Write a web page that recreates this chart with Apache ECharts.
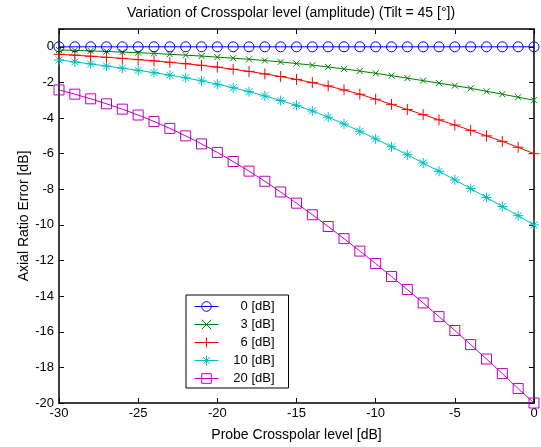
<!DOCTYPE html>
<html>
<head>
<meta charset="utf-8">
<script src="https://cdn.jsdelivr.net/npm/echarts@6/dist/echarts.min.js"></script>
<style>
html,body{margin:0;padding:0;background:#fff;}
#chart{width:541px;height:447px;}
</style>
</head>
<body>
<div id="chart"></div>
<script>
// Probe crosspolar level [dB]
var xValues = [-30,-29,-28,-27,-26,-25,-24,-23,-22,-21,-20,-19,-18,-17,-16,-15,-14,-13,-12,-11,-10,-9,-8,-7,-6,-5,-4,-3,-2,-1,0];
var seriesNames = ['0 [dB]','3 [dB]','6 [dB]','10 [dB]','20 [dB]'];
var ar0 = [0,0,0,0,0,0,0,0,0,0,0,0,0,0,0,0,0,0,0,0,0,0,0,0,0,0,0,0,0,0,0];
var ar3 = [-0.18,-0.20,-0.23,-0.26,-0.30,-0.33,-0.37,-0.42,-0.47,-0.52,-0.58,-0.64,-0.70,-0.77,-0.85,-0.94,-1.03,-1.13,-1.24,-1.36,-1.49,-1.62,-1.76,-1.90,-2.04,-2.18,-2.33,-2.50,-2.66,-2.83,-3.00];
var ar6 = [-0.42,-0.47,-0.53,-0.59,-0.65,-0.72,-0.79,-0.87,-0.95,-1.04,-1.14,-1.26,-1.38,-1.52,-1.67,-1.83,-2.01,-2.20,-2.42,-2.66,-2.94,-3.23,-3.52,-3.81,-4.10,-4.39,-4.69,-5.00,-5.31,-5.64,-6.00];
var ar10 = [-0.74,-0.85,-0.96,-1.08,-1.20,-1.32,-1.45,-1.59,-1.74,-1.91,-2.10,-2.30,-2.52,-2.76,-3.02,-3.29,-3.60,-3.95,-4.33,-4.74,-5.17,-5.61,-6.06,-6.52,-6.99,-7.47,-7.96,-8.46,-8.97,-9.48,-10.00];
var ar20 = [-2.42,-2.66,-2.92,-3.20,-3.50,-3.83,-4.19,-4.58,-5.00,-5.45,-5.93,-6.44,-6.98,-7.55,-8.15,-8.78,-9.43,-10.09,-10.77,-11.47,-12.17,-12.90,-13.63,-14.38,-15.15,-15.93,-16.72,-17.53,-18.35,-19.19,-20.00];
var xTicks = [-30,-25,-20,-15,-10,-5,0];
var yTicks = [-20,-18,-16,-14,-12,-10,-8,-6,-4,-2,0];

var allY = [ar0, ar3, ar6, ar10, ar20];
var colors = ['#0000FF','#008000','#FF0000','#00BFBF','#BF00BF'];
var symbols = [
  'circle',
  'path://M0,0L10,10M10,0L0,10',
  'path://M5,0L5,10M0,5L10,5',
  'path://M5,0L5,10M0,5L10,5M1.5,1.5L8.5,8.5M8.5,1.5L1.5,8.5',
  'rect'
];
var sizes = [10, 6, 11, 10, 10];

var FONT = '"Liberation Sans", Arial, Helvetica, sans-serif';

var series = seriesNames.map(function(name, i){
  return {
    name: name,
    type: 'line',
    xAxisIndex: 0,
    yAxisIndex: 0,
    data: xValues.map(function(x, k){ return [x, allY[i][k]]; }),
    symbol: symbols[i],
    symbolSize: sizes[i],
    showAllSymbol: true,
    animation: false,
    lineStyle: {color: colors[i], width: 1},
    itemStyle: {color: 'rgba(255,255,255,0)', borderColor: colors[i], borderWidth: 1},
    emphasis: {disabled: true},
    z: 5 - i
  };
});

var axisLineStyle = {color: '#000', width: 1.5};
var common = {
  axisLine: {show: true, onZero: false, lineStyle: axisLineStyle},
  axisTick: {show: true, inside: true, length: 5, lineStyle: {color: '#000', width: 1}},
  splitLine: {show: false}
};

var chart = echarts.init(document.getElementById('chart'), null, {renderer: 'canvas'});
chart.setOption({
  animation: false,
  backgroundColor: '#fff',
  title: {
    text: 'Variation of Crosspolar level (amplitude) (Tilt = 45 [°])',
    left: 286, top: 1, textAlign: 'center',
    textStyle: {fontFamily: FONT, fontSize: 14, fontWeight: 'normal', color: '#000'}
  },
  grid: {left: 59, right: 7, top: 29, bottom: 42, containLabel: false},
  legend: {
    orient: 'vertical',
    left: 186, top: 295,
    padding: [5, 14, 3, 8],
    backgroundColor: '#fff',
    borderColor: '#000',
    borderWidth: 1,
    borderRadius: 0,
    itemWidth: 24,
    itemHeight: 12,
    itemGap: 5,
    selectedMode: false,
    lineStyle: {width: 1},
    itemStyle: {borderWidth: 1},
    data: seriesNames,
    formatter: function(n){ return '{a|' + n + '}'; },
    textStyle: {
      fontFamily: FONT, fontSize: 13, color: '#000',
      rich: {a: {width: 51, align: 'right', fontFamily: FONT, fontSize: 13, color: '#000'}}
    }
  },
  xAxis: [
    Object.assign({}, common, {
      type: 'value', position: 'bottom', min: -30, max: 0, interval: 5,
      name: 'Probe Crosspolar level [dB]', nameLocation: 'middle', nameGap: 25,
      nameMoveOverlap: false,
      nameTextStyle: {fontFamily: FONT, fontSize: 14, color: '#000'},
      axisLabel: {show: true, margin: 4, fontFamily: FONT, fontSize: 13, color: '#000',
        formatter: function(v){ return xTicks.indexOf(v) >= 0 ? String(v) : ''; }}
    }),
    Object.assign({}, common, {
      type: 'value', position: 'top', min: -30, max: 0, interval: 5,
      axisLabel: {show: false}
    })
  ],
  yAxis: [
    Object.assign({}, common, {
      type: 'value', position: 'left', min: -20, max: 1, interval: 2,
      name: 'Axial Ratio Error [dB]', nameLocation: 'middle', nameGap: 28, nameRotate: 90,
      nameMoveOverlap: false,
      nameTextStyle: {fontFamily: FONT, fontSize: 14, color: '#000'},
      axisLabel: {show: true, margin: 5, fontFamily: FONT, fontSize: 13, color: '#000',
        formatter: function(v){ return yTicks.indexOf(v) >= 0 ? String(v) : ''; }}
    }),
    Object.assign({}, common, {
      type: 'value', position: 'right', min: -20, max: 1, interval: 2,
      axisLabel: {show: false}
    })
  ],
  series: series
});
</script>
</body>
</html>
